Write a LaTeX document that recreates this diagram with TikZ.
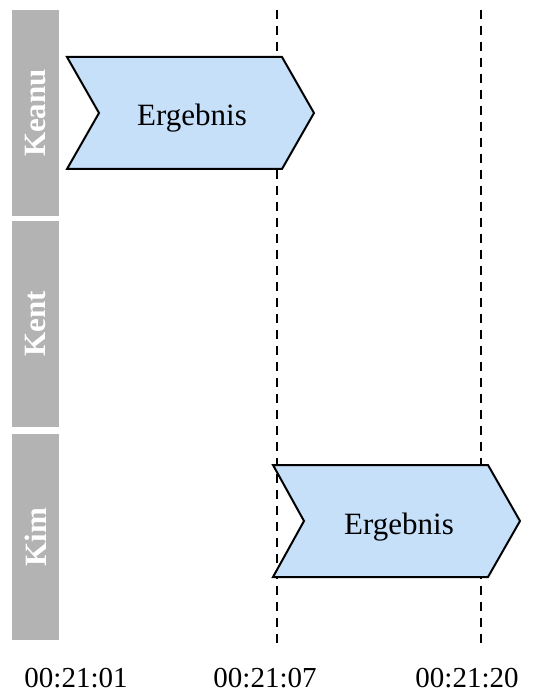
\documentclass[tikz,border=0pt]{standalone}
\usepackage{fontspec}
\setmainfont{Liberation Serif}
\definecolor{lanegray}{RGB}{179,179,179}
\definecolor{taskblue}{RGB}{199,224,250}
\tikzset{
  lane/.style={fill=lanegray, draw=none, minimum width=206pt, minimum height=47pt,
               inner sep=0pt, text=white, font=\fontsize{31}{35}\selectfont\bfseries,
               rotate=90},
  task/.style={fill=taskblue, draw=black, line width=2pt, line join=miter},
  tasklabel/.style={font=\fontsize{31}{35}\selectfont, anchor=base, inner sep=0pt},
  timeline/.style={dashed, dash pattern=on 9pt off 7pt, line width=1.8pt},
  timelabel/.style={font=\fontsize{29}{33}\selectfont, anchor=base, inner sep=0pt}
}
\begin{document}
\begin{tikzpicture}[x=1pt, y=-1pt]
\useasboundingbox (0,0) rectangle (533,692);
% swim lanes
\node[lane] (keanu) at (35.5,113) {Keanu};
\node[lane] (kent)  at (35.5,324) {Kent};
\node[lane] (kim)   at (35.5,537) {Kim};
% time markers
\coordinate (t1top) at (277,10);
\coordinate (t1bot) at (277,648);
\coordinate (t2top) at (481,10);
\coordinate (t2bot) at (481,648);
\draw[timeline] (t1top) -- (t1bot);
\draw[timeline] (t2top) -- (t2bot);
% tasks
\draw[task] (67,57) -- (282,57) -- (314,113) -- (282,169) -- (67,169) -- (99,113) -- cycle;
\node[tasklabel] (task1) at (192,126) {Ergebnis};
\draw[task] (273,465) -- (488,465) -- (520,521) -- (488,577) -- (273,577) -- (304,521) -- cycle;
\node[tasklabel] (task2) at (399,534) {Ergebnis};
% time axis labels
\node[timelabel] (l1) at (76,687) {00:21:01};
\node[timelabel] (l2) at (265,687) {00:21:07};
\node[timelabel] (l3) at (467,687) {00:21:20};
\end{tikzpicture}
\end{document}
